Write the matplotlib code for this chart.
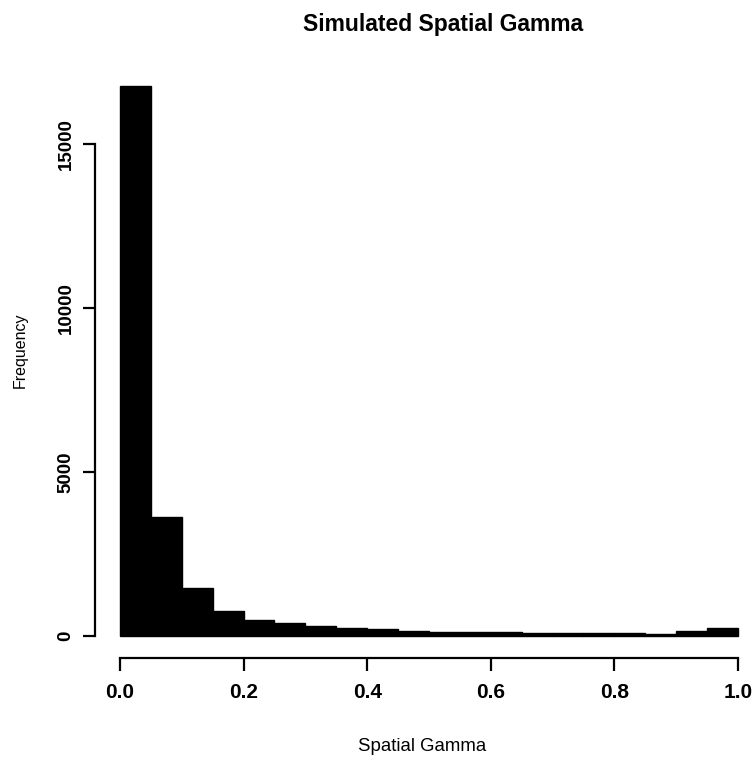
import numpy as np
import matplotlib
matplotlib.use("Agg")
import matplotlib.pyplot as plt

plt.rcParams['font.family'] = ['Liberation Sans', 'DejaVu Sans']

# histogram counts, bins of width 0.05 over [0, 1]
bin_edges = [0.00, 0.05, 0.10, 0.15, 0.20, 0.25, 0.30, 0.35, 0.40, 0.45, 0.50,
             0.55, 0.60, 0.65, 0.70, 0.75, 0.80, 0.85, 0.90, 0.95, 1.00]
counts = [16780, 3620, 1470, 770, 500, 400, 310, 235, 200, 155,
          125, 120, 110, 100, 95, 90, 85, 65, 150, 240]

x_ticks = [0.0, 0.2, 0.4, 0.6, 0.8, 1.0]
x_tick_labels = ["0.0", "0.2", "0.4", "0.6", "0.8", "1.0"]
y_ticks = [0, 5000, 10000, 15000]
y_tick_labels = ["0", "5000", "10000", "15000"]

fig = plt.figure(figsize=(7.52, 7.62), dpi=100)
ax = fig.add_axes([0.1267, 0.1365, 0.8875, 0.7795])

lefts = np.array(bin_edges[:-1])
widths = np.diff(bin_edges)
ax.bar(lefts, counts, width=widths, align='edge', color='black',
       edgecolor='black', linewidth=1)

# R-style axes: 4% padding and detached axis lines
ymax = max(counts)
ax.set_xlim(-0.04, 1.04)
ax.set_ylim(-0.04 * ymax, 1.04 * ymax)

for side in ['top', 'right']:
    ax.spines[side].set_visible(False)
ax.spines['left'].set_bounds(0, 15000)
ax.spines['bottom'].set_bounds(0, 1)
for side in ['left', 'bottom']:
    ax.spines[side].set_linewidth(1.6)

ax.set_xticks(x_ticks)
ax.set_xticklabels(x_tick_labels, fontsize=15, fontweight='bold')
ax.set_yticks(y_ticks)
ax.set_yticklabels(y_tick_labels, fontsize=13.5, rotation=90, va='center',
                   fontweight='bold')
ax.tick_params(axis='both', length=9, width=1.6)
ax.tick_params(axis='x', pad=9)
ax.tick_params(axis='y', pad=6)

ax.set_xlabel("Spatial Gamma", fontsize=13.4, va='center')
ax.xaxis.set_label_coords(0.4895, -0.1498)
ax.set_ylabel("Frequency", fontsize=11.5, va='center')
ax.yaxis.set_label_coords(-0.113, 0.518)
fig.text(0.589, 0.968, "Simulated Spatial Gamma", ha='center', va='center',
         fontsize=16.5, fontweight='bold')

fig.savefig("out.png", dpi=100)
